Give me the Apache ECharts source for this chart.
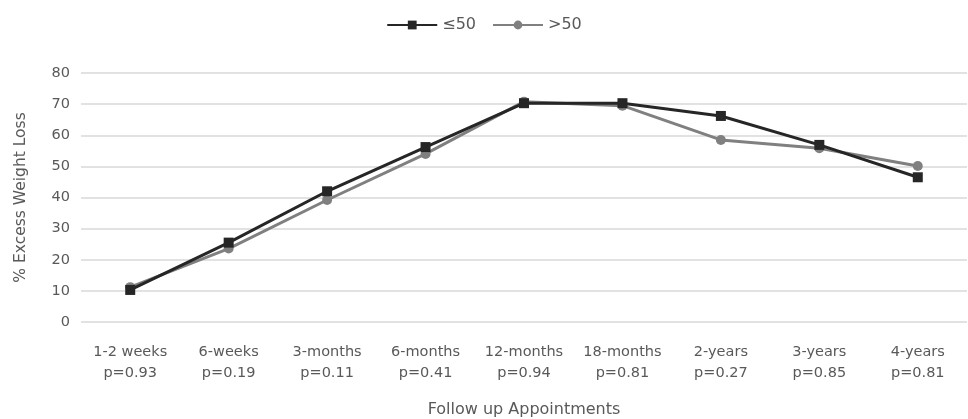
<!DOCTYPE html>
<html>
<head>
<meta charset="utf-8">
<script src="https://cdn.jsdelivr.net/npm/echarts@6/dist/echarts.min.js"></script>
<style>html,body{margin:0;padding:0;background:#fff}#c{width:968px;height:419px}</style>
</head>
<body>
<div id="c"></div>
<script>
var categories = ['1-2 weeks\np=0.93','6-weeks\np=0.19','3-months\np=0.11','6-months\np=0.41','12-months\np=0.94','18-months\np=0.81','2-years\np=0.27','3-years\np=0.85','4-years\np=0.81'];
var seriesLow = [10.3, 25.5, 42, 56.2, 70.3, 70.3, 66.2, 56.9, 46.5];
var seriesHigh = [11.2, 23.6, 39.2, 54, 70.8, 69.5, 58.5, 55.8, 50.1];
var yTicks = [0, 10, 20, 30, 40, 50, 60, 70, 80];

var font = 'DejaVu Sans';
var chart = echarts.init(document.getElementById('c'));
chart.setOption({
  animation: false,
  legend: {
    top: 12, left: 'center', itemWidth: 50, itemHeight: 11, itemGap: 16,
    textStyle: {fontFamily: font, fontSize: 16, color: '#595959'},
    data: ['≤50', '>50']
  },
  grid: {left: 81, right: 1, top: 73, bottom: 97, outerBoundsMode: 'none', containLabel: false},
  xAxis: {
    type: 'category', data: categories, boundaryGap: true,
    name: 'Follow up Appointments', nameLocation: 'middle', nameGap: 80,
    nameTextStyle: {fontFamily: font, fontSize: 16, color: '#595959'},
    axisLine: {show: false}, axisTick: {show: false},
    axisLabel: {fontFamily: font, fontSize: 14.5, color: '#595959', lineHeight: 21, margin: 20, interval: 0}
  },
  yAxis: {
    type: 'value', min: yTicks[0], max: yTicks[yTicks.length-1], interval: 10,
    name: '% Excess Weight Loss', nameLocation: 'middle', nameGap: 52,
    nameTextStyle: {fontFamily: font, fontSize: 15.5, color: '#595959'},
    axisLine: {show: false}, axisTick: {show: false},
    axisLabel: {fontFamily: font, fontSize: 14.5, color: '#595959', margin: 11},
    splitLine: {lineStyle: {color: '#d9d9d9', width: 1.5}}
  },
  series: [
    {name: '≤50', type: 'line', data: seriesLow, symbol: 'rect', symbolSize: 10,
     lineStyle: {color: '#262626', width: 3}, itemStyle: {color: '#262626'}, z: 3},
    {name: '>50', type: 'line', data: seriesHigh, symbol: 'circle', symbolSize: 10,
     lineStyle: {color: '#808080', width: 3}, itemStyle: {color: '#808080'}, z: 2}
  ]
});
</script>
</body>
</html>
